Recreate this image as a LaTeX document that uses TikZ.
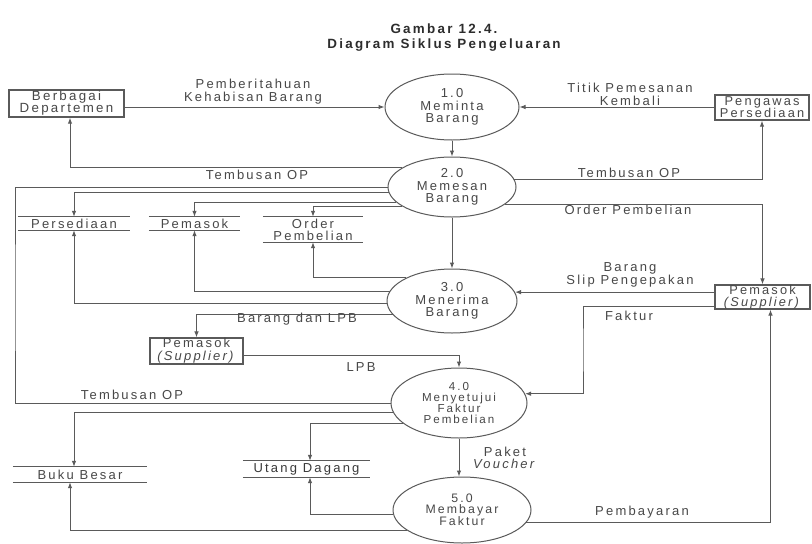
\documentclass[tikz,border=0pt]{standalone}
\usepackage{fontspec}
\setmainfont{Liberation Sans}[LetterSpace=17]
\usetikzlibrary{shapes.geometric,arrows.meta}
\definecolor{ink}{RGB}{72,72,72}
\definecolor{lineink}{RGB}{90,90,90}
\definecolor{titleink}{RGB}{45,45,45}
\newcommand{\dfdsize}[2]{\fontsize{#1}{#2}\selectfont}

\begin{document}
\begin{tikzpicture}[x=1pt,y=-1pt,
  every node/.style={align=center,inner sep=0pt,text=ink,font=\dfdsize{13}{12.5}},
  process/.style={ellipse,draw=lineink,line width=1pt,fill=white},
  entity/.style={rectangle,draw=lineink,line width=1.4pt},
  storeline/.style={draw=lineink,line width=1pt},
  flow/.style={draw=lineink,line width=1pt,-{Latex[length=6pt,width=4.5pt]}},
  plain/.style={draw=lineink,line width=1pt},
  lbl/.style={font=\dfdsize{13}{13}},
]
\fill[white] (0,0) rectangle (812,544);
\useasboundingbox (0,0) rectangle (812,544);

% title
\node[text=titleink,font=\bfseries\dfdsize{13.4}{15}] (title) at (444,37.5)
  {Gambar 12.4.\\Diagram Siklus Pengeluaran};

% external entities
\node[entity,minimum width=115,minimum height=27,font=\dfdsize{13.3}{12}] (dept) at (66.5,103.5) {Berbagai\\Departemen};
\node[entity,minimum width=94,minimum height=25,font=\dfdsize{12.8}{12}] (pengawas) at (762,107.5) {Pengawas\\Persediaan};
\node[entity,line width=1.1pt,minimum width=95,minimum height=24,font=\dfdsize{12.8}{11.5}] (supR) at (762.5,297) {Pemasok\\\textit{(Supplier)}};
\node[entity,line width=1.1pt,minimum width=93,minimum height=26,font=\dfdsize{13}{13}] (supL) at (196.5,351) {Pemasok\\\textit{(Supplier)}};

% processes
\node[process,minimum width=134,minimum height=66] (e1) at (452,107) {1.0\\Meminta\\Barang};
\node[process,minimum width=128,minimum height=60] (e2) at (452,187) {2.0\\Memesan\\Barang};
\node[process,minimum width=130,minimum height=64] (e3) at (452,301) {3.0\\Menerima\\Barang};
\node[process,minimum width=136,minimum height=70,font=\dfdsize{11.6}{10.5}] (e4) at (459,403) {4.0\\Menyetujui\\Faktur\\Pembelian};
\node[process,minimum width=138,minimum height=66,font=\dfdsize{12.3}{11}] (e5) at (462,510) {5.0\\Membayar\\Faktur};

% data stores
\node[minimum width=112,minimum height=13] (persediaan) at (74,223.5) {Persediaan};
\node[minimum width=91,minimum height=13] (pemasokS) at (194.5,223.5) {Pemasok};
\node[minimum width=100,minimum height=25,font=\dfdsize{13}{12}] (orderS) at (313,229.5) {Order\\Pembelian};
\node[minimum width=134,minimum height=15] (buku) at (80,474.5) {Buku Besar};
\node[minimum width=127,minimum height=16,text=ink!80!black] (utang) at (306.5,469) {Utang Dagang};
\foreach \s in {persediaan,pemasokS,orderS,buku,utang}
  \draw[storeline] (\s.north west) -- (\s.north east) (\s.south west) -- (\s.south east);

% loop coordinates
\coordinate (loopL) at (15,300);
\coordinate (fk) at (583,350);

% flows around 1.0
\draw[flow] (dept.east |- e1.west) -- (e1.west);
\draw[flow] (pengawas.west |- e1.east) -- (e1.east);
\draw[flow] (e1.south) -- (e2.north);

% flows out of 2.0
\draw[flow] (e2.159) -| ([xshift=3.5pt]dept.south);
\draw[flow] (e2.7) -| (pengawas.south);
\draw[flow] (e2.342) -| (supR.north);
\draw[plain] (e2.west) -| (loopL) |- (e4.west);
\draw[flow] (e2.185.5) -| (persediaan.north);
\draw[flow] (e2.195) -| (pemasokS.north);
\draw[flow] (e2.201) -| (orderS.north);
\draw[flow] (e2.south) -- (e3.north);

% flows around 3.0
\draw[flow] (e3.153) -| (orderS.south);
\draw[flow] (e3.171) -| (pemasokS.south);
\draw[flow] (e3.182) -| (persediaan.south);
\draw[flow] (e3.193.5) -| (supL.north);
\draw[flow] (supR.west |- e3.8) -- (e3.8);

% flows around 4.0
\draw[flow] ([yshift=-9pt]supR.west) -| (fk) |- (e4.8);
\draw[flow] ([yshift=-4pt]supL.east) -| (e4.north);
\draw[flow] (e4.south) -- (e4.south |- e5.north);
\draw[flow] (e4.188) -| ([xshift=-6pt]buku.north);
\draw[flow] (e4.200) -| ([xshift=3.5pt]utang.north);

% flows out of 5.0
\draw[flow] (e5.184) -| ([xshift=3.5pt]utang.south);
\draw[flow] (e5.200) -| ([xshift=-10pt]buku.south);
\draw[flow] (e5.349) -| ([xshift=8pt]supR.south);

% flow labels
\node[lbl] (l1) at (253,91.5) {Pemberitahuan\\Kehabisan Barang};
\node[lbl] (l2) at (630,94.5) {Titik Pemesanan\\Kembali};
\node[lbl] (l3) at (257,175) {Tembusan OP};
\node[lbl] (l4) at (629,173) {Tembusan OP};
\node[lbl] (l5) at (628,210) {Order Pembelian};
\node[lbl] (l6) at (132,395) {Tembusan OP};
\node[lbl] (l7) at (297,319) {Barang dan LPB};
\node[lbl,font=\dfdsize{13}{12}] (l8) at (630,275) {Barang\\Slip Pengepakan};
\node[lbl] (l9) at (629,316) {Faktur};
\node[lbl] (l10) at (361,367) {LPB};
\node[lbl,font=\dfdsize{13}{12}] (l11) at (505,458) {Paket\\\textit{Voucher}};
\node[lbl] (l12) at (642,512) {Pembayaran};
\end{tikzpicture}
\end{document}
